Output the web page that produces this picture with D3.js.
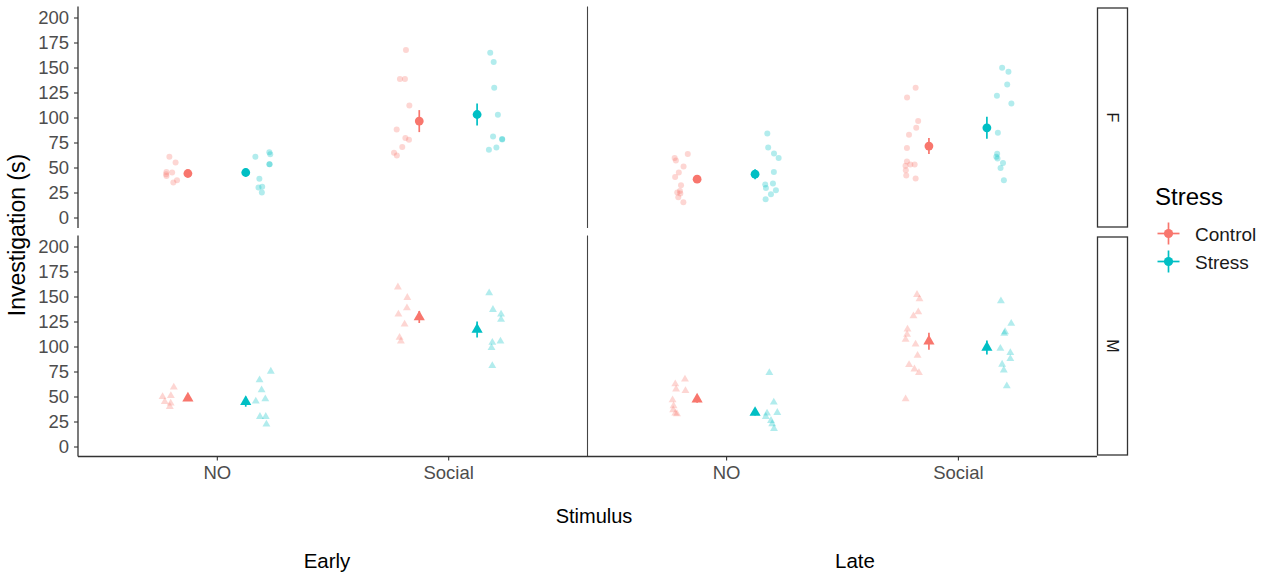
<!DOCTYPE html>
<html>
<head>
<meta charset="utf-8">
<script src="https://cdn.jsdelivr.net/npm/d3@7"></script>
<style>
  html, body { margin: 0; padding: 0; background: #ffffff; }
  svg { display: block; font-family: "Liberation Sans", Arial, Helvetica, sans-serif; }
</style>
</head>
<body>
<svg id="chart" width="1275" height="577"></svg>
<script>
// ---- factor levels ----
const phases = ["Early", "Late"];
const sexes = ["F", "M"];
const stimuli = ["NO", "Social"];
const groups = ["Control", "Stress"];
const yTicks = [0, 25, 50, 75, 100, 125, 150, 175, 200];

// ---- individual investigation times (s) ----
const rawEarlyF_NO_Control = [60.7, 55, 45.6, 45, 41.6, 43.3, 37.3, 35];
const rawEarlyF_NO_Stress = [60.7, 63.3, 65.3, 53.3, 53.3, 38.7, 30, 30.7, 25];
const rawEarlyF_Social_Control = [167.4, 138.4, 138.4, 112, 88, 79.4, 77.7, 70.4, 64.7, 62];
const rawEarlyF_Social_Stress = [164.8, 155.5, 129.7, 102.7, 81, 78.4, 78, 70, 67.7];

const rawLateF_NO_Control = [63.4, 59.4, 57, 51, 45, 40.6, 32.3, 26.6, 25, 24, 20.3, 15.3];
const rawLateF_NO_Stress = [84, 70, 64, 59.4, 45.6, 34, 33, 29.6, 27.3, 23.3, 18.3];
const rawLateF_Social_Control = [129.7, 120, 96.4, 89.7, 82.7, 69.4, 56, 51.7, 53, 53, 47.3, 42, 39];
const rawLateF_Social_Stress = [149.8, 145.7, 133, 121.7, 114, 84.7, 63.7, 60.7, 59, 54.6, 49.6, 37.3];

const rawEarlyM_NO_Control = [59.2, 50.8, 49.8, 44.8, 43.2, 39.9];
const rawEarlyM_NO_Stress = [75.1, 66.5, 56.5, 47.5, 45.2, 29.9, 29.9, 22.3];
const rawEarlyM_Social_Control = [159.4, 148.9, 138.5, 132.2, 122.3, 109, 105.3];
const rawEarlyM_Social_Stress = [153.5, 136.9, 132.2, 127, 105.3, 104, 98.7, 80.7];

const rawLateM_NO_Control = [67.2, 62.5, 57.2, 55.8, 46.5, 40.6, 36.6, 33.3, 32.6];
const rawLateM_NO_Stress = [73.7, 44.2, 33.9, 33.3, 29.9, 25.9, 22.6, 17.9];
const rawLateM_Social_Control = [151.9, 147.5, 134.5, 130.5, 117.3, 112, 107, 102.3, 91, 81.7, 77.4, 73.7, 47.5];
const rawLateM_Social_Stress = [145.5, 123, 114.6, 113, 98, 93.7, 87.7, 82.1, 76.4, 60.5];

// ---- group means and standard errors: NO-Control, NO-Stress, Social-Control, Social-Stress ----
const meanEarlyF = [44, 45, 96.4, 103];
const seEarlyF = [2.5, 4, 11, 11];
const meanLateF = [38.3, 43.3, 71.4, 89.7];
const seLateF = [3.5, 5, 8, 11];
const meanEarlyM = [48.2, 44.8, 129.5, 117];
const seEarlyM = [2.5, 5, 6, 8];
const meanLateM = [47.2, 33.9, 105.3, 99];
const seLateM = [3.5, 3, 8.5, 7];

// ---- assemble tidy tables ----
const rawTable = {
  Early: { F: { NO: { Control: rawEarlyF_NO_Control, Stress: rawEarlyF_NO_Stress },
                Social: { Control: rawEarlyF_Social_Control, Stress: rawEarlyF_Social_Stress } },
           M: { NO: { Control: rawEarlyM_NO_Control, Stress: rawEarlyM_NO_Stress },
                Social: { Control: rawEarlyM_Social_Control, Stress: rawEarlyM_Social_Stress } } },
  Late:  { F: { NO: { Control: rawLateF_NO_Control, Stress: rawLateF_NO_Stress },
                Social: { Control: rawLateF_Social_Control, Stress: rawLateF_Social_Stress } },
           M: { NO: { Control: rawLateM_NO_Control, Stress: rawLateM_NO_Stress },
                Social: { Control: rawLateM_Social_Control, Stress: rawLateM_Social_Stress } } }
};
const summaryTable = {
  Early: { F: [meanEarlyF, seEarlyF], M: [meanEarlyM, seEarlyM] },
  Late:  { F: [meanLateF, seLateF],   M: [meanLateM, seLateM] }
};

const rawPoints = [];
const summaries = [];
phases.forEach(ph => sexes.forEach(sx => stimuli.forEach((st, si) => groups.forEach((g, gi) => {
  rawTable[ph][sx][st][g].forEach(v => rawPoints.push({ phase: ph, sex: sx, stim: st, group: g, value: v }));
  const [m, se] = summaryTable[ph][sx];
  const k = si * 2 + gi;
  summaries.push({ phase: ph, sex: sx, stim: st, group: g, mean: m[k], se: se[k] });
}))));

// ---- layout ----
const colRange = { Early: [78, 587], Late: [587, 1097] };
const rowRange = { F: [228, 8], M: [457, 237] };
const axisY = 456.5;

const color = d3.scaleOrdinal().domain(groups).range(["#F8766D", "#00BFC4"]);
const xScale = {};
phases.forEach(ph => { xScale[ph] = d3.scalePoint().domain(stimuli).range(colRange[ph]).padding(0.6); });
const yScale = {};
sexes.forEach(sx => { yScale[sx] = d3.scaleLinear().domain([-10.5, 209.5]).range(rowRange[sx]); });

// dodge offsets in category units
const dodgeSummary = { Control: -0.125, Stress: 0.125 };
const dodgeRaw = { Control: -0.2, Stress: 0.2 };
const jitter = d3.randomUniform.source(d3.randomLcg(0.4217))(-0.035, 0.035);
rawPoints.forEach(p => { p.jit = jitter(); });

const xPos = (ph, st, offsetUnits) => xScale[ph](st) + offsetUnits * xScale[ph].step();

const svg = d3.select("#chart");
const shapeFor = { F: d3.symbolCircle, M: d3.symbolTriangle };
const rawSize = { F: Math.PI * 3 * 3, M: 27 };
const sumSize = { F: Math.PI * 4.4 * 4.4, M: 54 };

// ---- left y axes (one per row) ----
sexes.forEach(sx => {
  const g = svg.append("g").attr("transform", "translate(78,0)");
  g.call(d3.axisLeft(yScale[sx]).tickValues(yTicks).tickSize(4).tickPadding(5));
  g.select(".domain").attr("d", `M0,${rowRange[sx][1] - 1.5}V${sx === "F" ? rowRange[sx][0] : axisY}`)
    .attr("stroke", "#333333").attr("stroke-width", 1.3);
  g.selectAll(".tick line").attr("stroke", "#333333").attr("stroke-width", 1.1);
  g.selectAll(".tick text").attr("fill", "#4D4D4D").style("font-size", "18.5px")
    .style("font-family", "'Liberation Sans', Arial, sans-serif");
});

// ---- vertical axis line of the Late column (no labels) ----
sexes.forEach(sx => {
  svg.append("line")
    .attr("x1", 587.5).attr("x2", 587.5)
    .attr("y1", rowRange[sx][1] - 1.5).attr("y2", sx === "F" ? rowRange[sx][0] : axisY)
    .attr("stroke", "#444444").attr("stroke-width", 1.1);
});

// ---- bottom x axes ----
phases.forEach(ph => {
  const g = svg.append("g").attr("transform", `translate(0,${axisY})`);
  g.call(d3.axisBottom(xScale[ph]).tickSize(4).tickPadding(5));
  g.select(".domain").attr("d", `M${colRange[ph][0]},0H${colRange[ph][1]}`)
    .attr("stroke", "#333333").attr("stroke-width", 1.3);
  g.selectAll(".tick line").attr("stroke", "#333333").attr("stroke-width", 1.1);
  g.selectAll(".tick text").attr("fill", "#4D4D4D").style("font-size", "18.5px")
    .style("font-family", "'Liberation Sans', Arial, sans-serif");
});

// ---- individual observations ----
svg.append("g").selectAll("path").data(rawPoints).join("path")
  .attr("d", d => d3.symbol().type(shapeFor[d.sex]).size(rawSize[d.sex])())
  .attr("transform", d => `translate(${xPos(d.phase, d.stim, dodgeRaw[d.group] + d.jit)},${yScale[d.sex](d.value)})`)
  .attr("fill", d => color(d.group))
  .attr("fill-opacity", 0.3);

// ---- mean ± SE ----
const sumG = svg.append("g");
sumG.selectAll("line").data(summaries).join("line")
  .attr("x1", d => xPos(d.phase, d.stim, dodgeSummary[d.group]))
  .attr("x2", d => xPos(d.phase, d.stim, dodgeSummary[d.group]))
  .attr("y1", d => yScale[d.sex](d.mean - d.se))
  .attr("y2", d => yScale[d.sex](d.mean + d.se))
  .attr("stroke", d => color(d.group))
  .attr("stroke-width", 1.7);
sumG.selectAll("path").data(summaries).join("path")
  .attr("d", d => d3.symbol().type(shapeFor[d.sex]).size(sumSize[d.sex])())
  .attr("transform", d => `translate(${xPos(d.phase, d.stim, dodgeSummary[d.group])},${yScale[d.sex](d.mean)})`)
  .attr("fill", d => color(d.group));

// ---- facet strips ----
sexes.forEach(sx => {
  const [y1, y0] = rowRange[sx];
  const top = y0, bottom = sx === "F" ? 227 : 455;
  svg.append("rect")
    .attr("x", 1097.5).attr("y", top).attr("width", 30).attr("height", bottom - top)
    .attr("fill", "#ffffff").attr("stroke", "#333333").attr("stroke-width", 1.3);
  svg.append("text")
    .attr("transform", `translate(1106.5,${(top + bottom) / 2}) rotate(90)`)
    .attr("text-anchor", "middle")
    .attr("fill", "#1A1A1A").style("font-size", "16px")
    .text(sx);
});

// ---- axis titles ----
svg.append("text")
  .attr("transform", "translate(25,235) rotate(-90)")
  .attr("text-anchor", "middle").attr("fill", "#000000").style("font-size", "23px")
  .text("Investigation (s)");
svg.append("text")
  .attr("x", 594).attr("y", 522.5).attr("text-anchor", "middle")
  .attr("fill", "#000000").style("font-size", "20px").text("Stimulus");
const phaseLabelX = { Early: 327, Late: 855 };
phases.forEach(ph => {
  svg.append("text")
    .attr("x", phaseLabelX[ph]).attr("y", 568).attr("text-anchor", "middle")
    .attr("fill", "#000000").style("font-size", "20.5px").text(ph);
});

// ---- legend ----
const legend = svg.append("g");
legend.append("text").attr("x", 1155).attr("y", 205)
  .attr("fill", "#000000").style("font-size", "24px").text("Stress");
groups.forEach((g, i) => {
  const cy = 233.5 + i * 28;
  const cx = 1168.5;
  legend.append("line").attr("x1", cx).attr("x2", cx).attr("y1", cy - 11).attr("y2", cy + 11)
    .attr("stroke", color(g)).attr("stroke-width", 1.7);
  legend.append("line").attr("x1", cx - 11).attr("x2", cx + 11).attr("y1", cy).attr("y2", cy)
    .attr("stroke", color(g)).attr("stroke-width", 1.7);
  legend.append("circle").attr("cx", cx).attr("cy", cy).attr("r", 4.6).attr("fill", color(g));
  legend.append("text").attr("x", 1195).attr("y", cy + 7)
    .attr("fill", "#1A1A1A").style("font-size", "19px").text(g);
});
</script>
</body>
</html>
